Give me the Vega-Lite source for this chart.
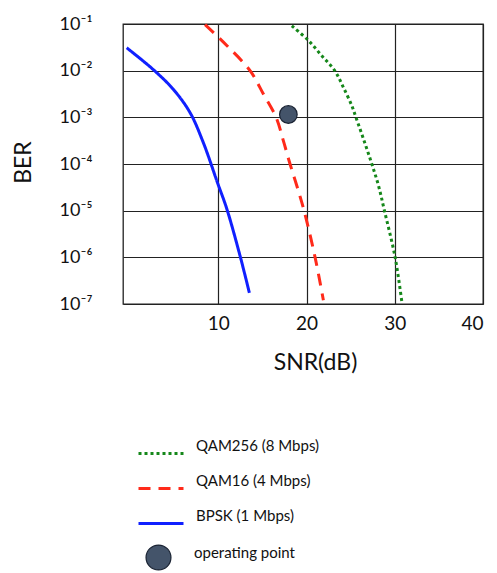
{
  "$schema": "https://vega.github.io/schema/vega-lite/v6.json",
  "width": 360,
  "height": 280,
  "autosize": {"type": "none"},
  "padding": {"left": 123, "top": 24, "right": 14, "bottom": 269},
  "background": "white",
  "config": {
    "view": {"stroke": "#222", "strokeWidth": 1.3},
    "font": "Lato",
    "axis": {
      "grid": true, "gridColor": "#222", "gridOpacity": 1, "gridWidth": 1.2,
      "domain": false, "ticks": false, "tickSize": 0,
      "labelColor": "#111", "titleColor": "#111",
      "labelFont": "Lato", "titleFont": "Lato", "titleFontWeight": "normal"
    },
    "legend": {"padding": 0, "labelFont": "Lato", "labelColor": "#111"}
  },
  "layer": [
    {
      "data": {"values": [
        {"mod": "BPSK (1 Mbps)", "snr": -0.38, "ber": 0.0309},
        {"mod": "BPSK (1 Mbps)", "snr": 2.64, "ber": 0.0105},
        {"mod": "BPSK (1 Mbps)", "snr": 4.9, "ber": 0.00398},
        {"mod": "BPSK (1 Mbps)", "snr": 6.8, "ber": 0.00126},
        {"mod": "BPSK (1 Mbps)", "snr": 8.3, "ber": 0.000288},
        {"mod": "BPSK (1 Mbps)", "snr": 9.89, "ber": 0.0000407},
        {"mod": "BPSK (1 Mbps)", "snr": 10.96, "ber": 0.000011},
        {"mod": "BPSK (1 Mbps)", "snr": 12.47, "ber": 0.00000107},
        {"mod": "BPSK (1 Mbps)", "snr": 13.52, "ber": 0.000000174},
        {"mod": "QAM16 (4 Mbps)", "snr": 8.5, "ber": 0.097},
        {"mod": "QAM16 (4 Mbps)", "snr": 10.96, "ber": 0.0347},
        {"mod": "QAM16 (4 Mbps)", "snr": 13.6, "ber": 0.01},
        {"mod": "QAM16 (4 Mbps)", "snr": 15.11, "ber": 0.00316},
        {"mod": "QAM16 (4 Mbps)", "snr": 16.55, "ber": 0.001},
        {"mod": "QAM16 (4 Mbps)", "snr": 17.37, "ber": 0.000316},
        {"mod": "QAM16 (4 Mbps)", "snr": 18.13, "ber": 0.0001},
        {"mod": "QAM16 (4 Mbps)", "snr": 18.89, "ber": 0.0000347},
        {"mod": "QAM16 (4 Mbps)", "snr": 19.72, "ber": 0.00001},
        {"mod": "QAM16 (4 Mbps)", "snr": 20.97, "ber": 0.000001},
        {"mod": "QAM16 (4 Mbps)", "snr": 21.91, "ber": 0.00000012},
        {"mod": "QAM256 (8 Mbps)", "snr": 18.33, "ber": 0.0912},
        {"mod": "QAM256 (8 Mbps)", "snr": 20.14, "ber": 0.0457},
        {"mod": "QAM256 (8 Mbps)", "snr": 21.73, "ber": 0.0209},
        {"mod": "QAM256 (8 Mbps)", "snr": 23.2, "ber": 0.01},
        {"mod": "QAM256 (8 Mbps)", "snr": 24.18, "ber": 0.00437},
        {"mod": "QAM256 (8 Mbps)", "snr": 25.13, "ber": 0.00178},
        {"mod": "QAM256 (8 Mbps)", "snr": 25.6, "ber": 0.001},
        {"mod": "QAM256 (8 Mbps)", "snr": 26.52, "ber": 0.000316},
        {"mod": "QAM256 (8 Mbps)", "snr": 27.4, "ber": 0.0001},
        {"mod": "QAM256 (8 Mbps)", "snr": 28.15, "ber": 0.0000347},
        {"mod": "QAM256 (8 Mbps)", "snr": 28.83, "ber": 0.00001},
        {"mod": "QAM256 (8 Mbps)", "snr": 30.04, "ber": 0.000001},
        {"mod": "QAM256 (8 Mbps)", "snr": 30.8, "ber": 0.000000112}
      ]},
      "mark": {"type": "line", "strokeWidth": 3, "strokeCap": "butt", "interpolate": "catmull-rom"},
      "encoding": {
        "x": {"field": "snr", "type": "quantitative",
          "scale": {"domain": [-0.8, 40], "nice": false, "zero": false},
          "axis": {"values": [10, 20, 30, 40], "title": "SNR(dB)", "labelFontSize": 19, "labelPadding": 10, "titleFontSize": 23, "titlePadding": 18, "titleX": 192}},
        "y": {"field": "ber", "type": "quantitative",
          "scale": {"type": "log", "domain": [0.0000001, 0.1], "nice": false},
          "axis": {"values": [0.1, 0.01, 0.001, 0.0001, 0.00001, 0.000001, 0.0000001],
            "labelExpr": "'10⁻' + ['⁰','¹','²','³','⁴','⁵','⁶','⁷'][-round(log(datum.value)/LN10)]",
            "labelFontSize": 18, "labelPadding": 31, "title": "BER", "titleFontSize": 23, "titleX": -100, "titleY": 138, "titleBaseline": "middle"}},
        "color": {"field": "mod", "type": "nominal",
          "scale": {"domain": ["QAM256 (8 Mbps)", "QAM16 (4 Mbps)", "BPSK (1 Mbps)"], "range": ["#15871a", "#ff2a1a", "#1020ff"]},
          "legend": {"title": null, "orient": "none", "legendX": 14, "legendY": 412, "symbolType": "stroke", "symbolSize": 2025, "symbolStrokeWidth": 3, "clipHeight": 35, "rowPadding": 0, "labelFontSize": 15, "labelOffset": 11, "labelBaseline": "bottom"}},
        "strokeDash": {"field": "mod", "type": "nominal",
          "scale": {"domain": ["QAM256 (8 Mbps)", "QAM16 (4 Mbps)", "BPSK (1 Mbps)"], "range": [[3, 3], [12, 8], [1, 0]]},
          "legend": {"title": null, "orient": "none", "legendX": 14, "legendY": 412, "symbolType": "stroke", "symbolSize": 2025, "symbolStrokeWidth": 3, "clipHeight": 35, "rowPadding": 0, "labelFontSize": 15, "labelOffset": 11, "labelBaseline": "bottom"}}
      }
    },
    {
      "data": {"values": [{"snr": 17.94, "ber": 0.00115, "pt": "operating point"}]},
      "mark": {"type": "point", "filled": true, "size": 310, "stroke": "#1a2333", "strokeWidth": 1.2, "opacity": 1},
      "encoding": {
        "x": {"field": "snr", "type": "quantitative"},
        "y": {"field": "ber", "type": "quantitative"},
        "fill": {"field": "pt", "type": "nominal", "scale": {"range": ["#44546a"]},
          "legend": {"title": null, "orient": "none", "legendX": 22, "legendY": 520, "symbolType": "circle", "symbolSize": 620, "symbolStrokeColor": "#1a2333", "symbolStrokeWidth": 1.2, "symbolOpacity": 1, "labelFontSize": 15, "labelOffset": 22, "labelBaseline": "alphabetic"}}
      }
    }
  ]
}
